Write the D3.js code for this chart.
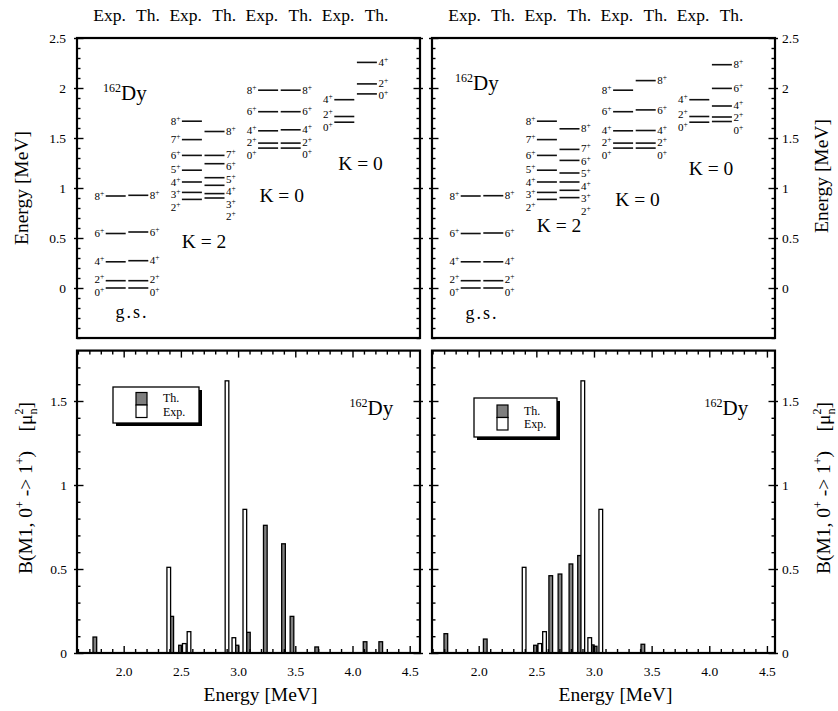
<!DOCTYPE html>
<html>
<head>
<meta charset="utf-8">
<script src="https://cdn.jsdelivr.net/npm/d3@7"></script>
<style>
body { margin: 0; background: #fff; }
svg text { font-family: "Liberation Serif", "Times New Roman", serif; fill: #000; }
</style>
</head>
<body>
<script>
// ---- data -------------------------------------------------------------
const bands = ["gs", "K2", "K0a", "K0b"];

// spins J (all positive parity)
const spinGs = [0, 2, 4, 6, 8];
const spinK2 = [2, 3, 4, 5, 6, 7, 8];
const spinK0a = [0, 2, 4, 6, 8];
const spinK0b = [0, 2, 4];
const spinK0bLong = [0, 2, 4, 6, 8];

// experimental levels [MeV]
const expGs = [0, 0.073, 0.262, 0.545, 0.920];
const expK2 = [0.886, 0.956, 1.060, 1.178, 1.326, 1.484, 1.668];
const expK0a = [1.399, 1.449, 1.572, 1.763, 1.978];
const expK0b = [1.658, 1.715, 1.883];

// theory, left panel
const thAGs = [0, 0.073, 0.273, 0.560, 0.927];
const thAK2 = [0.900, 0.944, 1.027, 1.103, 1.243, 1.326, 1.565];
const thAK0a = [1.399, 1.449, 1.582, 1.763, 1.978];
const thAK0b = [1.941, 2.041, 2.256];

// theory, right panel
const thBGs = [0, 0.073, 0.262, 0.550, 0.923];
const thBK2 = [0.904, 0.977, 1.060, 1.150, 1.276, 1.386, 1.592];
const thBK0a = [1.399, 1.449, 1.575, 1.781, 2.074];
const thBK0b = [1.665, 1.710, 1.820, 1.996, 2.233];

// B(M1, 0+ -> 1+) [mu_n^2]
const expM1E = [2.394, 2.530, 2.571, 2.903, 2.963, 3.059];
const expM1B = [0.510, 0.056, 0.127, 1.620, 0.091, 0.855];
const thAM1E = [1.748, 2.420, 2.497, 2.990, 3.090, 3.238, 3.397, 3.471, 3.687, 4.110, 4.247];
const thAM1B = [0.095, 0.218, 0.046, 0.046, 0.123, 0.760, 0.650, 0.218, 0.036, 0.067, 0.067];
const thBM1E = [1.715, 2.057, 2.493, 2.625, 2.705, 2.800, 2.875, 2.985, 3.010, 3.424];
const thBM1B = [0.115, 0.083, 0.046, 0.460, 0.470, 0.530, 0.580, 0.048, 0.040, 0.052];

const levTicksMajor = [0, 0.5, 1, 1.5, 2, 2.5];
const m1TicksMajor = [0, 0.5, 1, 1.5];
const eTicksMajor = [2.0, 2.5, 3.0, 3.5, 4.0, 4.5];

// ---- layout -----------------------------------------------------------
const width = 838, height = 711;
const panelX = [[77, 420], [432, 775]];
const serif = "Liberation Serif, Times New Roman, serif";

const yLev = d3.scaleLinear().domain([-0.5, 2.5]).range([338, 38]);
const yM1 = d3.scaleLinear().domain([0, 1.8]).range([653, 350.6]);
const xM1Dom = [[1.592, 4.59], [1.595, 4.57]];

const bandX = d3.scalePoint().domain(bands).range([50, 278.6]);
const half = 10, pairOff = 11.3;

const svg = d3.select("body").append("svg")
  .attr("width", width)
  .attr("height", height);

// push crowded labels apart (mostly downward)
function relax(ys, gap) {
  const idx = d3.range(ys.length).sort((a, b) => ys[a] - ys[b]);
  const out = ys.slice();
  for (let it = 0; it < 400; it++) {
    let moved = false;
    for (let k = 1; k < idx.length; k++) {
      const a = idx[k - 1], b = idx[k];
      const d = gap - (out[b] - out[a]);
      if (d > 0.01) { out[a] -= d * 0.25; out[b] += d * 0.75; moved = true; }
    }
    if (!moved) break;
  }
  return out;
}

function minorRange(lo, hi, majors) {
  return d3.range(Math.round(lo * 10), Math.round(hi * 10) + 1)
    .map(i => i / 10)
    .filter(v => !majors.some(m => Math.abs(m - v) < 1e-6));
}

// vertical ticks on one side of a frame
function vTicks(scale, x, side, minor, major, labels, pad) {
  const axisF = side == "left" ? d3.axisLeft : d3.axisRight;
  svg.append("g").attr("transform", `translate(${x},0)`)
    .call(axisF(scale).tickValues(minor).tickSize(-3.5).tickFormat(""))
    .call(a => a.select(".domain").remove())
    .selectAll(".tick line").attr("stroke-width", 1.4);
  const mg = svg.append("g").attr("transform", `translate(${x},0)`)
    .call(axisF(scale).tickValues(major).tickSize(-6.5).tickPadding(pad)
      .tickFormat(labels ? d3.format("~g") : ""))
    .attr("font-family", serif).attr("font-size", 13.5);
  mg.select(".domain").remove();
  mg.selectAll(".tick line").attr("x1", side == "left" ? -3 : 3).attr("stroke-width", 1.4);
}

function hTicks(scale, y, side, minor, major, labels) {
  const axisF = side == "bottom" ? d3.axisBottom : d3.axisTop;
  svg.append("g").attr("transform", `translate(0,${y})`)
    .call(axisF(scale).tickValues(minor).tickSize(-4).tickFormat(""))
    .call(a => a.select(".domain").remove())
    .selectAll(".tick line").attr("stroke-width", 1.4);
  const mg = svg.append("g").attr("transform", `translate(0,${y})`)
    .call(axisF(scale).tickValues(major).tickSize(-7).tickPadding(13.5)
      .tickFormat(labels ? d3.format(".1f") : ""))
    .attr("font-family", serif).attr("font-size", 13.5);
  mg.select(".domain").remove();
  mg.selectAll(".tick line").attr("stroke-width", 1.4);
}

function frame(x0, x1, y0, y1) {
  svg.append("rect")
    .attr("x", x0).attr("y", y0)
    .attr("width", x1 - x0).attr("height", y1 - y0)
    .attr("fill", "none").attr("stroke", "#000").attr("stroke-width", 2.2);
}

function dyLabel(g, x, y, big) {
  const t = g.append("text").attr("x", x).attr("y", y);
  t.append("tspan").style("font-size", "12px").attr("dy", -8).text("162");
  t.append("tspan").style("font-size", big + "px").attr("dy", 8).text("Dy");
}

// ---- level schemes ----------------------------------------------------
function levelPanel(i, th, thK0bSpins, notes) {
  const x0 = panelX[i][0];
  const g = svg.append("g").attr("transform", `translate(${x0},0)`);

  const columns = [
    { band: "gs", kind: "Exp.", J: spinGs, E: expGs },
    { band: "gs", kind: "Th.", J: spinGs, E: th[0] },
    { band: "K2", kind: "Exp.", J: spinK2, E: expK2 },
    { band: "K2", kind: "Th.", J: spinK2, E: th[1] },
    { band: "K0a", kind: "Exp.", J: spinK0a, E: expK0a },
    { band: "K0a", kind: "Th.", J: spinK0a, E: th[2] },
    { band: "K0b", kind: "Exp.", J: spinK0b, E: expK0b },
    { band: "K0b", kind: "Th.", J: thK0bSpins, E: th[3] }
  ];

  columns.forEach(c => {
    const isExp = c.kind == "Exp.";
    const cx = bandX(c.band) + (isExp ? -pairOff : pairOff);
    const ly = relax(c.E.map(e => yLev(e)), 12.5);
    const cg = g.append("g");

    cg.selectAll("line").data(c.E).join("line")
      .attr("x1", cx - half).attr("x2", cx + half)
      .attr("y1", d => yLev(d)).attr("y2", d => yLev(d))
      .attr("stroke", "#111").attr("stroke-width", 1.6);

    const t = cg.selectAll("text").data(c.J).join("text")
      .attr("x", isExp ? cx - half - 1.5 : cx + half + 1.5)
      .attr("y", (d, k) => ly[k] + 3.6)
      .attr("text-anchor", isExp ? "end" : "start")
      .style("font-size", "11px");
    t.append("tspan").text(d => d);
    t.append("tspan").attr("dy", -4).style("font-size", "7.5px").text("+");

    // column header
    g.append("text")
      .attr("x", bandX(c.band) + (isExp ? -17.5 : 21))
      .attr("y", 21)
      .attr("text-anchor", "middle")
      .style("font-size", "17.5px")
      .text(c.kind);
  });

  dyLabel(g, notes.dy[0], notes.dy[1], 21);
  notes.k.forEach(k => {
    g.append("text").attr("x", k[0]).attr("y", k[1])
      .attr("text-anchor", "middle").style("font-size", "19.5px").text(k[2]);
  });
  g.append("text").attr("x", notes.gs[0]).attr("y", notes.gs[1])
    .attr("text-anchor", "middle").style("font-size", "18px")
    .style("letter-spacing", "2px").text("g.s.");

  const [xa, xb] = panelX[i];
  const minor = minorRange(-0.5, 2.5, levTicksMajor);
  vTicks(yLev, xa, "left", minor, levTicksMajor, i == 0, 11);
  vTicks(yLev, xb, "right", minor, levTicksMajor, i == 1, 7);
  frame(xa, xb, yLev(2.5), yLev(-0.5));
}

levelPanel(0, [thAGs, thAK2, thAK0a, thAK0b], spinK0b, {
  dy: [26, 100],
  k: [[127, 248, "K = 2"], [204.7, 202, "K = 0"], [283.5, 170, "K = 0"]],
  gs: [55, 318]
});
levelPanel(1, [thBGs, thBK2, thBK0a, thBK0b], spinK0bLong, {
  dy: [23, 90],
  k: [[127, 232, "K = 2"], [205.5, 206, "K = 0"], [279, 175, "K = 0"]],
  gs: [50, 319]
});

// ---- M1 strength panels ----------------------------------------------
function legend(bx, by, w, h) {
  const g = svg.append("g");
  g.append("rect").attr("x", bx + 3).attr("y", by + 3).attr("width", w).attr("height", h)
    .attr("fill", "#000");
  g.append("rect").attr("x", bx).attr("y", by).attr("width", w).attr("height", h)
    .attr("fill", "#fff").attr("stroke", "#000").attr("stroke-width", 1.3);
  const sy = by + h / 2 - 12.5;
  g.append("rect").attr("x", bx + 23).attr("y", sy).attr("width", 11).attr("height", 12.5)
    .attr("fill", "#7f7f7f").attr("stroke", "#000").attr("stroke-width", 1.2);
  g.append("rect").attr("x", bx + 23).attr("y", sy + 12.5).attr("width", 11).attr("height", 12.5)
    .attr("fill", "#fff").attr("stroke", "#000").attr("stroke-width", 1.2);
  g.append("text").attr("x", bx + 50).attr("y", sy + 9.5).style("font-size", "12px").text("Th.");
  g.append("text").attr("x", bx + 50).attr("y", sy + 23).style("font-size", "12px").text("Exp.");
}

function m1Panel(i, thE, thB, leg) {
  const [xa, xb] = panelX[i];
  const x = d3.scaleLinear().domain(xM1Dom[i]).range([xa, xb]);
  const bw = 0.016;
  const g = svg.append("g");

  g.selectAll("rect.th").data(d3.zip(thE, thB)).join("rect")
    .attr("class", "th")
    .attr("x", d => x(d[0] - bw))
    .attr("width", d => x(d[0] + bw) - x(d[0] - bw))
    .attr("y", d => yM1(d[1]))
    .attr("height", d => yM1(0) - yM1(d[1]))
    .attr("fill", "#7f7f7f").attr("stroke", "#000").attr("stroke-width", 1.3);

  g.selectAll("rect.exp").data(d3.zip(expM1E, expM1B)).join("rect")
    .attr("class", "exp")
    .attr("x", d => x(d[0] - bw))
    .attr("width", d => x(d[0] + bw) - x(d[0] - bw))
    .attr("y", d => yM1(d[1]))
    .attr("height", d => yM1(0) - yM1(d[1]))
    .attr("fill", "#fff").attr("stroke", "#000").attr("stroke-width", 1.3);

  legend(leg[0], leg[1], leg[2], leg[3]);
  dyLabel(svg, xa + 272.5, 415, 21);

  const yMinor = minorRange(0.1, 1.7, m1TicksMajor);
  vTicks(yM1, xa, "left", yMinor, m1TicksMajor, i == 0, 10);
  vTicks(yM1, xb, "right", yMinor, m1TicksMajor, i == 1, 7);
  const xMinor = minorRange(1.6, 4.5, eTicksMajor);
  hTicks(x, yM1(0), "bottom", xMinor, eTicksMajor, true);
  hTicks(x, yM1(1.8), "top", xMinor, eTicksMajor, false);
  frame(xa, xb, yM1(1.8), yM1(0));

  svg.append("text")
    .attr("x", (xa + xb) / 2 + 12).attr("y", 701)
    .attr("text-anchor", "middle").style("font-size", "19.5px")
    .text("Energy [MeV]");
}

m1Panel(0, thAM1E, thAM1B, [113, 387, 86, 36]);
m1Panel(1, thBM1E, thBM1B, [474, 398, 83, 39]);

// ---- axis titles ------------------------------------------------------
function energyTitle(x, y) {
  svg.append("text")
    .attr("transform", `translate(${x},${y}) rotate(-90)`)
    .attr("text-anchor", "middle").style("font-size", "19.5px")
    .text("Energy [MeV]");
}
energyTitle(28, 188);
energyTitle(828, 176);

function m1Title(x, y) {
  const t = svg.append("text")
    .attr("transform", `translate(${x},${y}) rotate(-90)`)
    .attr("text-anchor", "middle").style("font-size", "19.5px")
    .style("white-space", "pre");
  t.append("tspan").text("B(M1, 0");
  t.append("tspan").attr("dy", -8).style("font-size", "12px").text("+");
  t.append("tspan").attr("dy", 8).text(" -> 1");
  t.append("tspan").attr("dy", -8).style("font-size", "12px").text("+");
  t.append("tspan").attr("dy", 8).text(")    [\u03bc");
  t.append("tspan").attr("dy", 5).style("font-size", "12px").text("n");
  t.append("tspan").attr("dx", -6).attr("dy", -14).style("font-size", "12px").text("2");
  t.append("tspan").attr("dy", 9).text("]");
}
m1Title(32, 488);
m1Title(830, 488);
</script>
</body>
</html>
